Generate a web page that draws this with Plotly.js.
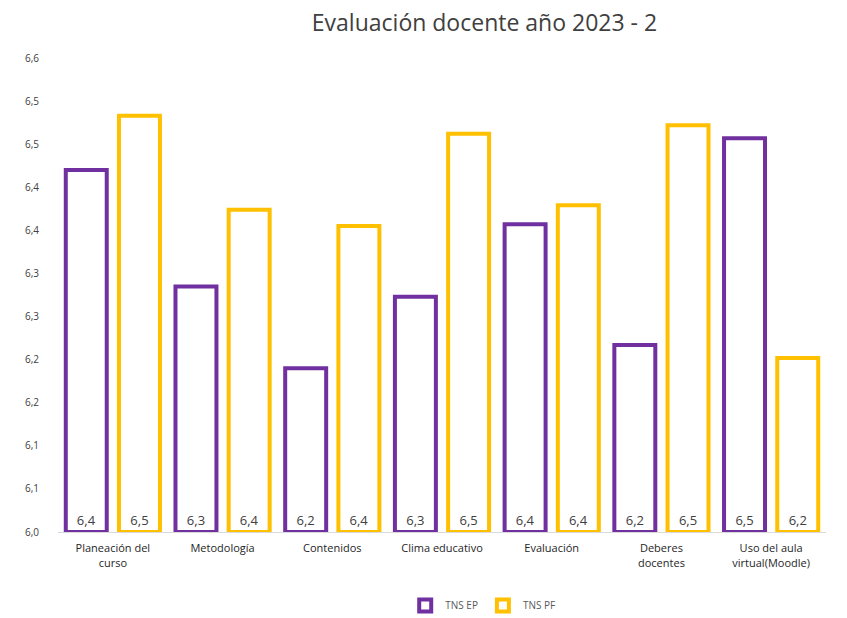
<!DOCTYPE html>
<html>
<head>
<meta charset="utf-8">
<script src="https://cdn.plot.ly/plotly-3.0.1.min.js"></script>
<style>html,body{margin:0;padding:0;background:#fff;}#chart{width:847px;height:618px;}</style>
</head>
<body>
<div id="chart"></div>
<script>
const categories = ["Planeación del<br>curso", "Metodología", "Contenidos", "Clima educativo", "Evaluación", "Deberes<br>docentes", "Uso del aula<br>virtual(Moodle)"];
const tnsEP = [6.42, 6.285, 6.19, 6.273, 6.357, 6.217, 6.457];
const tnsPF = [6.483, 6.374, 6.355, 6.462, 6.379, 6.472, 6.202];
const yTickVals = [6.0, 6.05, 6.1, 6.15, 6.2, 6.25, 6.3, 6.35, 6.4, 6.45, 6.5, 6.55];
const yTickText = ["6,0", "6,1", "6,1", "6,2", "6,2", "6,3", "6,3", "6,4", "6,4", "6,5", "6,5", "6,6"];
const axisBase = 6.0;

const font = "'Open Sans', Lato, sans-serif";
function mk(name, vals, color) {
  return {
    type: 'bar', name: name, x: categories,
    base: axisBase,
    y: vals.map(v => v - axisBase),
    customdata: vals,
    texttemplate: '%{customdata:.1f}',
    textposition: 'inside', insidetextanchor: 'start',
    textangle: 0,
    textfont: {family: font, size: 13, color: '#404040'},
    marker: {color: '#ffffff', line: {color: color, width: 4}},
    hoverinfo: 'skip', cliponaxis: false
  };
}
const data = [mk('TNS EP', tnsEP, '#7030A0'), mk('TNS PF', tnsPF, '#FFC000')];

const layout = {
  width: 847, height: 618,
  separators: ', ',
  paper_bgcolor: '#fff', plot_bgcolor: '#fff',
  margin: {l: 58, r: 21, t: 58, b: 86, autoexpand: false},
  title: {text: 'Evaluación docente año 2023 - 2', x: 0.572, xanchor: 'center', y: 0.963, yanchor: 'middle',
          font: {family: font, size: 23, color: '#404040'}},
  barmode: 'group', bargap: 0.03, bargroupgap: 0.23,
  xaxis: {tickfont: {family: font, size: 11, color: '#262626'}, showline: true, linecolor: '#d9d9d9', linewidth: 1,
          ticks: '', showgrid: false, fixedrange: true, ticklabelstandoff: 6},
  yaxis: {range: [6.0, 6.55], tickvals: yTickVals, ticktext: yTickText,
          tickfont: {family: font, size: 10, color: '#404040'}, showgrid: false, zeroline: false,
          showline: false, ticks: '', ticklabelstandoff: 18},
  showlegend: true,
  legend: {orientation: 'h', x: 0.553, xanchor: 'center', y: -0.155, yanchor: 'middle',
           font: {family: font, size: 10, color: '#595959'}, itemwidth: 30}
};
Plotly.newPlot('chart', data, layout, {displayModeBar: false, staticPlot: true});
</script>
</body>
</html>
